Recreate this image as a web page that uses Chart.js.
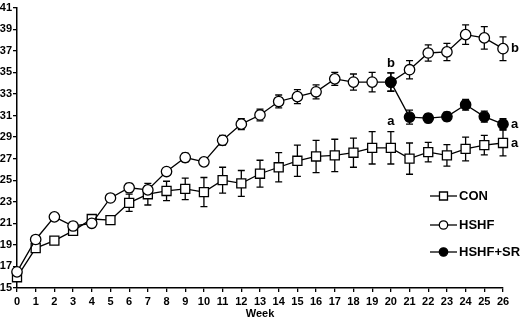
<!DOCTYPE html>
<html><head><meta charset="utf-8">
<script src="https://cdn.jsdelivr.net/npm/chart.js@4"></script>
<style>html,body{margin:0;padding:0;background:#fff}#wrap{width:520px;height:320px}</style>
</head><body><div id="wrap"><canvas id="c" width="520" height="320"></canvas></div>
<script>
const weeks = [0,1,2,3,4,5,6,7,8,9,10,11,12,13,14,15,16,17,18,19,20,21,22,23,24,25,26];
const conMean = [16.0,18.7,19.4,20.3,21.4,21.3,22.9,23.7,24.0,24.2,23.9,25.0,24.7,25.6,26.2,26.8,27.2,27.3,27.55,28.0,28.0,27.0,27.6,27.3,27.9,28.25,28.45];
const conErr  = [0.2,0.3,0.3,0.3,0.3,0.3,0.8,1.0,0.9,1.0,1.35,1.2,1.2,1.25,1.35,1.45,1.5,1.5,1.35,1.5,1.5,1.45,0.9,1.0,1.1,0.9,1.2];
const hshfMean = [16.5,19.5,21.6,20.75,21.0,23.35,24.3,24.1,25.8,27.1,26.7,28.7,30.2,31.05,32.3,32.75,33.2,34.4,34.1,34.1,34.1,35.25,36.8,36.9,38.5,38.2,37.2];
const hshfErr  = [0.2,0.2,0.2,0.2,0.2,0.2,0.4,0.4,0.3,0.4,0.3,0.45,0.5,0.55,0.6,0.65,0.65,0.6,0.75,0.9,0.85,0.85,0.75,0.8,0.9,1.05,1.1];
const srWeeks = [20,21,22,23,24,25,26];
const srMean  = [34.1,30.85,30.75,30.9,32.0,30.9,30.2];
const srErr   = [0.85,0.65,0.4,0.4,0.5,0.5,0.5];
const yTicks = [15,17,19,21,23,25,27,29,31,33,35,37,39,41];
const seriesLabels = ['CON','HSHF','HSHF+SR'];
const sigLabels = [
  {series:2, week:20, text:'b', pos:'above'},
  {series:1, week:26, text:'b', pos:'right'},
  {series:0, week:20, text:'a', pos:'above'},
  {series:2, week:26, text:'a', pos:'right'},
  {series:0, week:26, text:'a', pos:'right'}
];
const errs = [conErr, hshfErr, srErr];
const FONT = '"Liberation Sans", Arial, sans-serif';

const pts = (xs, ys) => xs.map((x,i)=>({x:x,y:ys[i]}));

const errorPlugin = {
  id:'errbars',
  beforeDatasetsDraw(chart){
    const ctx = chart.ctx, ys = chart.scales.y;
    ctx.save();
    ctx.strokeStyle = '#000'; ctx.lineWidth = 1.3;
    chart.data.datasets.forEach((ds, di)=>{
      const meta = chart.getDatasetMeta(di);
      meta.data.forEach((el, i)=>{
        const v = ds.data[i].y, e = errs[di][i];
        const x = el.x;
        const y1 = ys.getPixelForValue(v+e), y2 = ys.getPixelForValue(v-e);
        ctx.beginPath();
        ctx.moveTo(x,y1); ctx.lineTo(x,y2);
        ctx.moveTo(x-3.5,y1); ctx.lineTo(x+3.5,y1);
        ctx.moveTo(x-3.5,y2); ctx.lineTo(x+3.5,y2);
        ctx.stroke();
      });
    });
    ctx.restore();
  },
  afterDatasetsDraw(chart){
    const ctx = chart.ctx;
    ctx.save();
    ctx.fillStyle = '#000';
    ctx.font = 'bold 13px ' + FONT;
    ctx.textBaseline = 'middle';
    sigLabels.forEach(s=>{
      const ds = chart.data.datasets[s.series];
      const idx = ds.data.findIndex(p=>p.x===s.week);
      const el = chart.getDatasetMeta(s.series).data[idx];
      const e = errs[s.series][idx];
      if (s.pos==='above'){
        ctx.textAlign = 'center';
        const yTop = chart.scales.y.getPixelForValue(ds.data[idx].y + e);
        ctx.fillText(s.text, el.x, yTop - 10);
      } else {
        ctx.textAlign = 'left';
        ctx.fillText(s.text, el.x + 8, el.y);
      }
    });
    // legend
    const lx = 430, ly = [196, 225, 252];
    chart.data.datasets.forEach((ds, di)=>{
      const y = ly[di];
      ctx.strokeStyle = '#000'; ctx.lineWidth = 1.3;
      ctx.beginPath(); ctx.moveTo(lx, y); ctx.lineTo(lx+27, y); ctx.stroke();
      ctx.beginPath();
      if (ds.pointStyle==='rect'){ ctx.rect(lx+9.5, y-4, 8, 8); }
      else { ctx.arc(lx+13.5, y, 4.2, 0, Math.PI*2); }
      ctx.fillStyle = ds.pointBackgroundColor; ctx.fill(); ctx.stroke();
      ctx.fillStyle = '#000';
      ctx.font = 'bold 13px ' + FONT;
      ctx.textAlign = 'left';
      ctx.fillText(ds.label, lx+29, y+0.5);
    });
    ctx.restore();
  }
};

new Chart(document.getElementById('c'), {
  type:'line',
  data:{
    datasets:[
      {label:seriesLabels[0], data:pts(weeks, conMean), borderColor:'#000', borderWidth:1.3, order:2, clip:false,
       pointStyle:'rect', pointRadius:6.4, pointBackgroundColor:'#fff', pointBorderColor:'#000', pointBorderWidth:1.3, tension:0},
      {label:seriesLabels[1], data:pts(weeks, hshfMean), borderColor:'#000', borderWidth:1.3, order:1, clip:false,
       pointStyle:'circle', pointRadius:5.2, pointBackgroundColor:'#fff', pointBorderColor:'#000', pointBorderWidth:1.3, tension:0},
      {label:seriesLabels[2], data:pts(srWeeks, srMean), borderColor:'#000', borderWidth:1.3, order:0, clip:false,
       pointStyle:'circle', pointRadius:5.2, pointBackgroundColor:'#000', pointBorderColor:'#000', pointBorderWidth:1.3, tension:0}
    ]
  },
  options:{
    responsive:false, animation:false, devicePixelRatio:1,
    layout:{padding:{top:5, right:17, left:0, bottom:0}},
    plugins:{legend:{display:false}, tooltip:{enabled:false}},
    scales:{
      x:{type:'linear', min:0, max:26,
        afterBuildTicks(s){ s.ticks = weeks.map(v=>({value:v})); },
        afterFit(s){ s.height = 32; },
        grid:{drawOnChartArea:false, drawTicks:true, tickLength:4, color:'#000', lineWidth:1.3},
        border:{color:'#000', width:1.5},
        ticks:{color:'#000', font:{family:FONT, size:11, weight:'bold'}, padding:3, maxRotation:0, autoSkip:false},
        title:{display:true, text:'Week', color:'#000', font:{family:FONT, size:11, weight:'bold'}, padding:{top:0,bottom:-1}}
      },
      y:{type:'linear', min:15, max:41,
        afterBuildTicks(s){ s.ticks = yTicks.map(v=>({value:v})); },
        afterFit(s){ s.width = 17; },
        grid:{drawOnChartArea:false, drawTicks:true, tickLength:4, color:'#000', lineWidth:1.3},
        border:{color:'#000', width:1.5},
        ticks:{color:'#000', font:{family:FONT, size:11, weight:'bold'}, padding:1, autoSkip:false}
      }
    }
  },
  plugins:[errorPlugin]
});
</script>
</body></html>
